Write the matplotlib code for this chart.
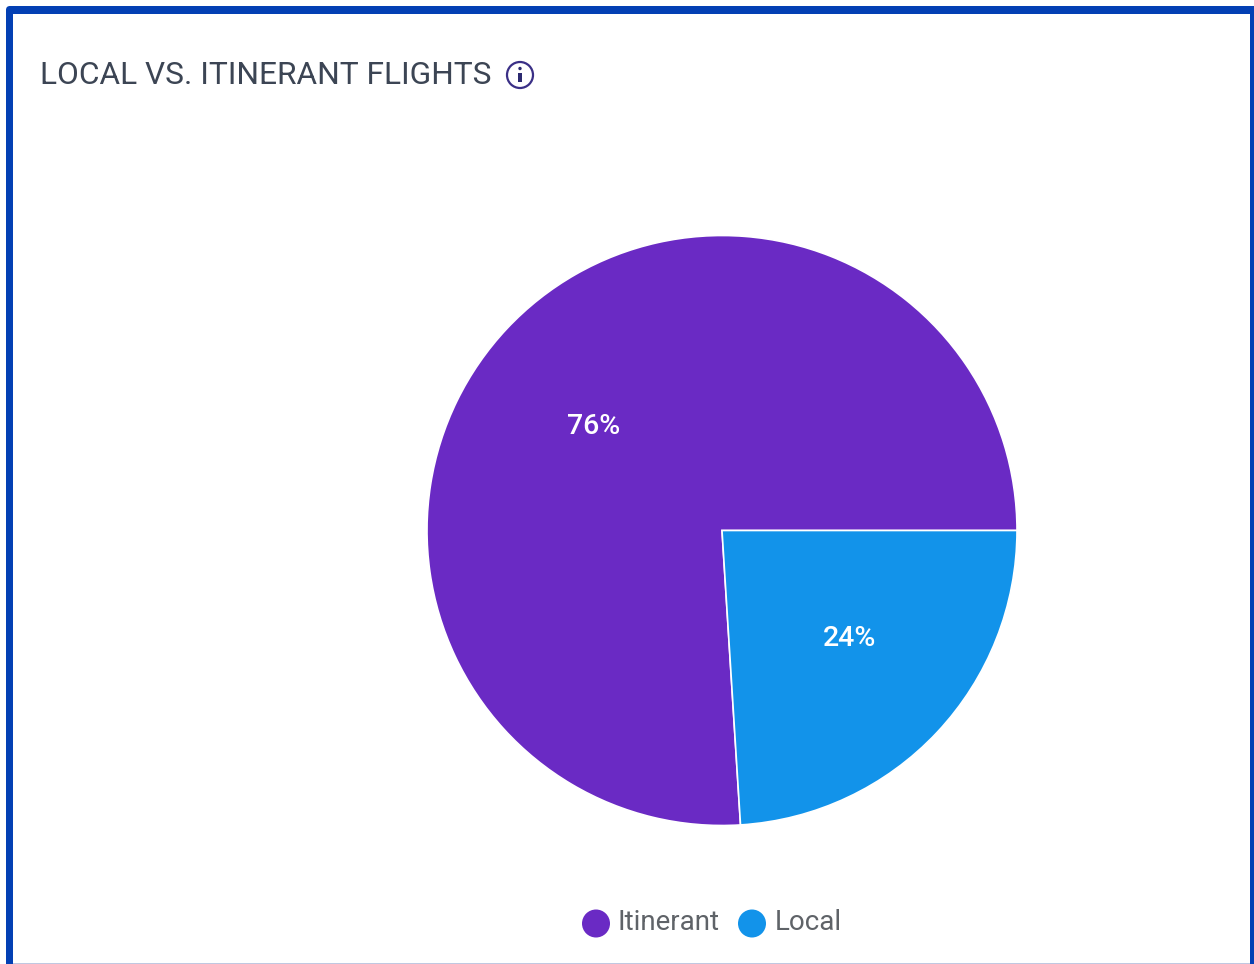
import matplotlib
matplotlib.use("Agg")
import matplotlib.pyplot as plt
from matplotlib.patches import Circle, Rectangle, FancyBboxPatch

W, H = 1254, 964

categories = ["Itinerant", "Local"]
shares = [76, 24]
share_labels = ["76%", "24%"]
colors = ["#6A2AC4", "#1293EA"]
title = "LOCAL VS. ITINERANT FLIGHTS"

plt.rcParams["font.family"] = ["Roboto", "DejaVu Sans"]

fig = plt.figure(figsize=(W / 100, H / 100), dpi=100, facecolor="white")


def pixel_axes(z):
    """Full-figure axes addressed in pixels, origin at the top left."""
    a = fig.add_axes([0, 0, 1, 1])
    a.set_xlim(0, W)
    a.set_ylim(H, 0)
    a.axis("off")
    a.set_zorder(z)
    return a


frame = pixel_axes(0)
top = pixel_axes(2)

# Card frame: blue border with a slightly rounded top-left corner, open at the bottom
blue = "#0340B4"
frame.add_patch(FancyBboxPatch((8, 8), W + 20, H + 20,
                               boxstyle="round,pad=2,rounding_size=4",
                               fc=blue, ec="none", clip_on=True))
frame.add_patch(Rectangle((13, 13.5), 1237, H, fc="white", ec="none"))
frame.plot([13, 1250], [963.5, 963.5], color="#B4BEDC", lw=1.2, solid_capstyle="butt")

top.text(40, 75, title, fontsize=22.8, color="#3C4554", va="center", ha="left")

# Info icon next to the title
top.add_patch(Circle((520, 75), 13, fc="none", ec="#3A2F86", lw=1.6))
top.add_patch(Circle((520, 68.5), 1.7, fc="#2C2A70", ec="none"))
top.add_patch(Rectangle((518.3, 72.5), 3.4, 9.5, fc="#2C2A70", ec="none"))

# Pie, counter-clockwise from three o'clock
cx, cy, r = 722, 530.5, 295
side = 2 * r + 2
ax = fig.add_axes([(cx - side / 2) / W, 1 - (cy + side / 2) / H, side / W, side / H])
ax.set_zorder(1)
wedges, _ = ax.pie(
    shares,
    colors=colors,
    startangle=0,
    counterclock=True,
    radius=1,
    wedgeprops={"edgecolor": "white", "linewidth": 1.2},
)
ax.set_xlim(-side / 2 / r, side / 2 / r)
ax.set_ylim(-side / 2 / r, side / 2 / r)

# Slice percentages
top.text(594, 426, share_labels[0], color="white", fontsize=20.5, fontweight="medium",
         ha="center", va="center")
top.text(850, 638, share_labels[1], color="white", fontsize=20.5, fontweight="medium",
         ha="center", va="center")

# Legend
for x, name, col, tx in [(596, categories[0], colors[0], 618), (752, categories[1], colors[1], 775)]:
    top.add_patch(Circle((x, 923.5), 14, fc=col, ec="none"))
    top.text(tx, 923, name, fontsize=20, color="#5F6368", va="center", ha="left")

fig.savefig("out.png", dpi=100, facecolor="white")
